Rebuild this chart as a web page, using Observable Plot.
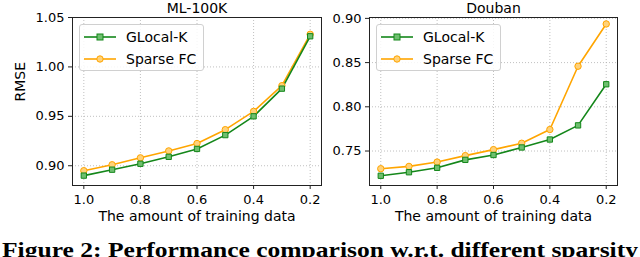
<!DOCTYPE html>
<html>
<head>
<meta charset="utf-8">
<script src="https://cdn.jsdelivr.net/npm/d3@7"></script>
<script src="https://cdn.jsdelivr.net/npm/@observablehq/plot@0.6"></script>
<style>
  html, body { margin: 0; padding: 0; background: #fff; }
  #wrap { position: relative; width: 640px; height: 257px; overflow: hidden; font-family: "DejaVu Sans", sans-serif; }
  .panel { position: absolute; top: 0; }
  .legend { position: absolute; box-sizing: border-box; border: 1px solid #d0d0d0; border-radius: 3px; background: rgba(255,255,255,0.85); font-size: 14px; color: #000; }
  .legend .row { position: absolute; left: 0; height: 20px; display: flex; align-items: center; white-space: nowrap; }
  .legend svg { display: block; }
  #caption { position: absolute; left: 0; top: 230px; }
</style>
</head>
<body>
<div id="wrap"></div>
<script>
// ---- data ----
const fractions = [1.0, 0.9, 0.8, 0.7, 0.6, 0.5, 0.4, 0.3, 0.2];
const xTicks = [1.0, 0.8, 0.6, 0.4, 0.2];
const seriesNames = ["GLocal-K", "Sparse FC"];
const seriesColors = ["#14871a", "#ffa500"];
const seriesFills = ["#6fbf6f", "#ffd27a"];

const ml100kTitle = "ML-100K";
const ml100kGlocal = [0.890, 0.896, 0.902, 0.909, 0.917, 0.931, 0.950, 0.978, 1.031];
const ml100kSparse = [0.895, 0.901, 0.908, 0.915, 0.9225, 0.9365, 0.955, 0.981, 1.033];
const ml100kYTicks = [0.90, 0.95, 1.00, 1.05];

const doubanTitle = "Douban";
const doubanGlocal = [0.722, 0.726, 0.731, 0.740, 0.7455, 0.754, 0.763, 0.779, 0.8255];
const doubanSparse = [0.730, 0.7326, 0.7375, 0.7448, 0.7516, 0.7588, 0.7743, 0.8459, 0.8937];
const doubanYTicks = [0.75, 0.80, 0.85, 0.90];

const xLabel = "The amount of training data";
const yLabel = "RMSE";
const captionText = "Figure 2: Performance comparison w.r.t. different sparsity";

function table(glocal, sparse) {
  const rows = [];
  fractions.forEach((f, i) => {
    rows.push({x: f, y: glocal[i], s: seriesNames[0]});
    rows.push({x: f, y: sparse[i], s: seriesNames[1]});
  });
  return rows;
}

function panel({title, glocal, sparse, yTicks, yDomain, left, width, marginLeft, marginRight, showYLabel}) {
  const data = table(glocal, sparse);
  const g = data.filter(d => d.s === seriesNames[0]);
  const s = data.filter(d => d.s === seriesNames[1]);
  const plot = Plot.plot({
    width, height: 230,
    marginLeft, marginRight, marginTop: 17, marginBottom: 45,
    style: {background: "transparent", fontFamily: "DejaVu Sans, sans-serif", fontSize: "13px", color: "#000"},
    x: {domain: [1.04, 0.16], ticks: xTicks, tickFormat: d3.format(".1f"), label: null},
    y: {domain: yDomain, ticks: yTicks, tickFormat: d3.format(".2f"), label: null},
    marks: [
      Plot.gridX(xTicks, {stroke: "#b0b0b0", strokeOpacity: 1, strokeWidth: 0.8, strokeDasharray: "1,2"}),
      Plot.gridY(yTicks, {stroke: "#b0b0b0", strokeOpacity: 1, strokeWidth: 0.8, strokeDasharray: "1,2"}),
      Plot.axisX(xTicks, {tickSize: 4, tickPadding: 5, fontSize: 13, tickFormat: d3.format(".1f"), stroke: "#222", label: null}),
      Plot.axisY(yTicks, {tickSize: 4, tickPadding: 4, fontSize: 13, tickFormat: d3.format(".2f"), stroke: "#222", label: null}),
      Plot.line(s, {x: "x", y: "y", stroke: seriesColors[1], strokeWidth: 1.6}),
      Plot.line(g, {x: "x", y: "y", stroke: seriesColors[0], strokeWidth: 1.6}),
      Plot.dot(s, {x: "x", y: "y", r: 3.2, stroke: seriesColors[1], fill: seriesFills[1], strokeWidth: 1}),
      Plot.dot(g, {x: "x", y: "y", r: 3, symbol: "square", stroke: seriesColors[0], fill: seriesFills[0], strokeWidth: 1}),
      Plot.frame({stroke: "#222", strokeWidth: 1}),
      Plot.text([title], {frameAnchor: "top", lineAnchor: "bottom", dy: -5, fontSize: 14, fill: "#000"}),
      Plot.text([xLabel], {frameAnchor: "bottom", lineAnchor: "bottom", dy: 35, fontSize: 14, fill: "#000"}),
      ...(showYLabel ? [Plot.text([yLabel], {frameAnchor: "left", dx: -52, rotate: -90, fontSize: 14, fill: "#000"})] : [])
    ]
  });
  plot.classList.add("panel");
  plot.style.left = left + "px";
  return plot;
}

function legend(left, top) {
  const div = document.createElement("div");
  div.className = "legend";
  div.style.left = left + "px";
  div.style.top = top + "px";
  div.style.width = "125px";
  div.style.height = "47px";
  seriesNames.forEach((name, i) => {
    const row = document.createElement("div");
    row.className = "row";
    row.style.top = (i === 0 ? 2 : 23.5) + "px";
    const sw = d3.create("svg").attr("width", 42).attr("height", 20);
    sw.append("line").attr("x1", 4).attr("x2", 36).attr("y1", 10).attr("y2", 10)
      .attr("stroke", seriesColors[i]).attr("stroke-width", 1.6);
    if (i === 0) {
      sw.append("rect").attr("x", 17).attr("y", 7).attr("width", 6).attr("height", 6)
        .attr("fill", seriesFills[0]).attr("stroke", seriesColors[0]);
    } else {
      sw.append("circle").attr("cx", 20).attr("cy", 10).attr("r", 3.2)
        .attr("fill", seriesFills[1]).attr("stroke", seriesColors[1]);
    }
    row.appendChild(sw.node());
    const t = document.createElement("span");
    t.textContent = name;
    t.style.marginLeft = "4px";
    row.appendChild(t);
    div.appendChild(row);
  });
  return div;
}

const wrap = document.getElementById("wrap");
wrap.appendChild(panel({title: ml100kTitle, glocal: ml100kGlocal, sparse: ml100kSparse, yTicks: ml100kYTicks,
  yDomain: [0.880, 1.05], left: 0, width: 325, marginLeft: 72, marginRight: 4, showYLabel: true}));
wrap.appendChild(panel({title: doubanTitle, glocal: doubanGlocal, sparse: doubanSparse, yTicks: doubanYTicks,
  yDomain: [0.711, 0.901], left: 320, width: 320, marginLeft: 49, marginRight: 23, showYLabel: false}));
wrap.appendChild(legend(79, 24));
wrap.appendChild(legend(376, 24));

const cap = d3.create("svg").attr("id", "caption").attr("width", 640).attr("height", 27);
cap.append("text").attr("x", 2).attr("y", 27)
  .attr("font-family", "Liberation Serif, DejaVu Serif, serif").attr("font-weight", "bold")
  .attr("font-size", 22).attr("textLength", 636).attr("lengthAdjust", "spacingAndGlyphs")
  .attr("fill", "#000").text(captionText);
wrap.appendChild(cap.node());
</script>
</body>
</html>
